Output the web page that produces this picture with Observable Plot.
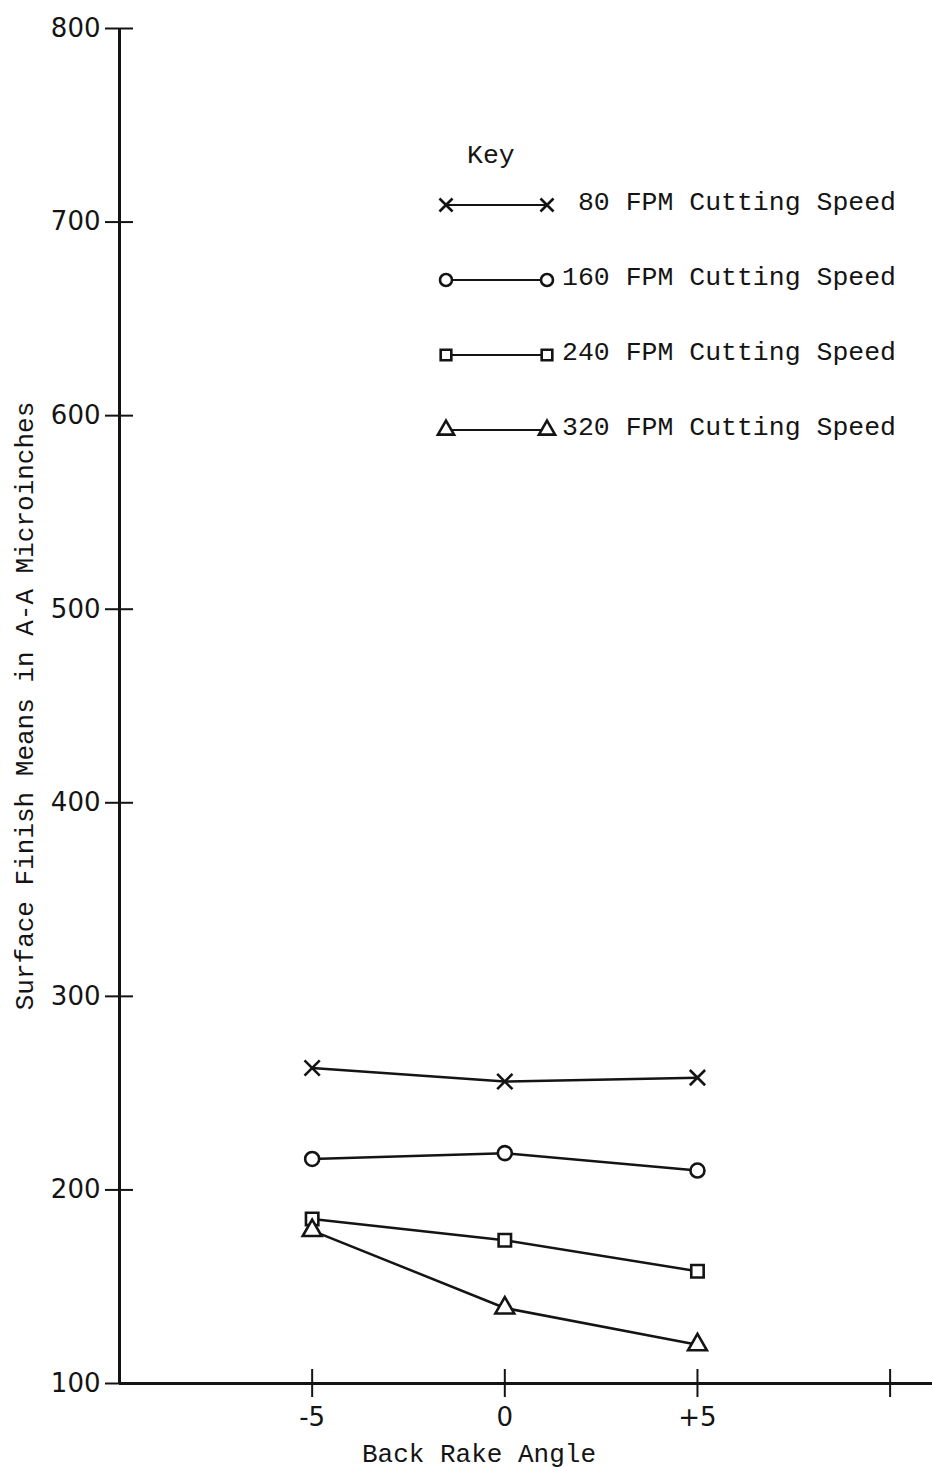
<!DOCTYPE html>
<html>
<head>
<meta charset="utf-8">
<script src="https://cdn.jsdelivr.net/npm/d3@7"></script>
<script src="https://cdn.jsdelivr.net/npm/@observablehq/plot@0.6"></script>
<style>
  body { margin: 0; background: #fff; }
  #chart { position: relative; width: 932px; height: 1467px; background: #fff; }
  #chart svg { position: absolute; left: 0; top: 0; }
</style>
</head>
<body>
<div id="chart"></div>
<script>
// Surface finish means (A-A microinches) by back rake angle, one series per cutting speed
const rakeAngles = [-5, 0, 5];
const speeds = ["80", "160", "240", "320"];
const finish80 = [263, 256, 258];
const finish160 = [216, 219, 210];
const finish240 = [185, 174, 158];
const finish320 = [179, 139, 120];
const speedSymbols = ["times", "circle", "square", "triangle"];

const xTicks = [-5, 0, 5, 10];
const xTickLabels = ["-5", "0", "+5", ""];
const yTicks = [100, 200, 300, 400, 500, 600, 700, 800];

const yTitle = "Surface Finish Means in A-A Microinches";
const xTitle = "Back Rake Angle";
const keyTitle = "Key";
const keyLabel = s => `${s} FPM Cutting Speed`;

const ink = "#141414";
const typewriter = "'Liberation Mono', 'DejaVu Sans Mono', monospace";
const lettering = "'DejaVu Sans', sans-serif";

// long-format table for the line and dot marks
const seriesValues = [finish80, finish160, finish240, finish320];
const table = speeds.flatMap((speed, i) =>
  rakeAngles.map((angle, j) => ({speed, angle, finish: seriesValues[i][j]}))
);

const chart = Plot.plot({
  width: 932,
  height: 1467,
  marginLeft: 119,
  marginRight: 0,
  marginTop: 28,
  marginBottom: 84,
  style: {background: "#fff", color: ink, overflow: "visible"},
  x: {domain: [-10, 11.1]},
  y: {domain: [100, 800]},
  symbol: {domain: speeds, range: speedSymbols},
  marks: [
    // axis lines
    Plot.ruleX([-10], {stroke: ink, strokeWidth: 3}),
    Plot.ruleY([100], {stroke: ink, strokeWidth: 3}),
    // ticks cross the axis lines
    Plot.axisY(yTicks, {
      tickSize: 28, dx: 14, tickPadding: 5, strokeWidth: 2,
      fontSize: 26, fontFamily: lettering, fill: ink, stroke: ink, label: null
    }),
    Plot.axisX(xTicks, {
      tickSize: 28, dy: -14, tickPadding: 10, strokeWidth: 2,
      tickFormat: d => xTickLabels[xTicks.indexOf(d)],
      fontSize: 26, fontFamily: lettering, fill: ink, stroke: ink, label: null
    }),
    // axis titles
    Plot.text([yTitle], {
      text: d => d, frameAnchor: "left", dx: -95, rotate: -90,
      textAnchor: "middle", lineAnchor: "middle",
      fontSize: 26, fontFamily: typewriter, fill: ink
    }),
    Plot.text([xTitle], {
      text: d => d, frameAnchor: "bottom", dx: -47, dy: 70,
      textAnchor: "middle", lineAnchor: "middle",
      fontSize: 26, fontFamily: typewriter, fill: ink
    }),
    // series
    Plot.line(table, {x: "angle", y: "finish", z: "speed", stroke: ink, strokeWidth: 2.5}),
    Plot.dot(table, {
      x: "angle", y: "finish", symbol: "speed", r: 7,
      stroke: ink, fill: "#fff", strokeWidth: 2.6
    })
  ]
});

document.getElementById("chart").append(chart);

// key drawn as an overlay in the upper right of the plot area
const key = d3.create("svg")
  .attr("width", 932)
  .attr("height", 1467)
  .style("pointer-events", "none");

key.append("text")
  .attr("x", 467).attr("y", 163)
  .attr("font-family", typewriter).attr("font-size", 26.5)
  .attr("fill", ink)
  .text(keyTitle);

const symbolTypes = {
  times: d3.symbolTimes, circle: d3.symbolCircle,
  square: d3.symbolSquare, triangle: d3.symbolTriangle
};

speeds.forEach((speed, i) => {
  const rowY = 205 + i * 75;
  const g = key.append("g");
  g.append("line")
    .attr("x1", 446).attr("x2", 547)
    .attr("y1", rowY).attr("y2", rowY)
    .attr("stroke", ink).attr("stroke-width", 2);
  const path = d3.symbol(symbolTypes[speedSymbols[i]], Math.PI * 36)();
  [446, 547].forEach(x => {
    g.append("path")
      .attr("d", path)
      .attr("transform", `translate(${x},${rowY})`)
      .attr("fill", "#fff").attr("stroke", ink).attr("stroke-width", 2.6);
  });
  g.append("text")
    .attr("x", 896).attr("y", rowY + 5)
    .attr("text-anchor", "end")
    .attr("font-family", typewriter).attr("font-size", 26.5)
    .attr("fill", ink)
    .text(keyLabel(speed));
});

document.getElementById("chart").append(key.node());
</script>
</body>
</html>
